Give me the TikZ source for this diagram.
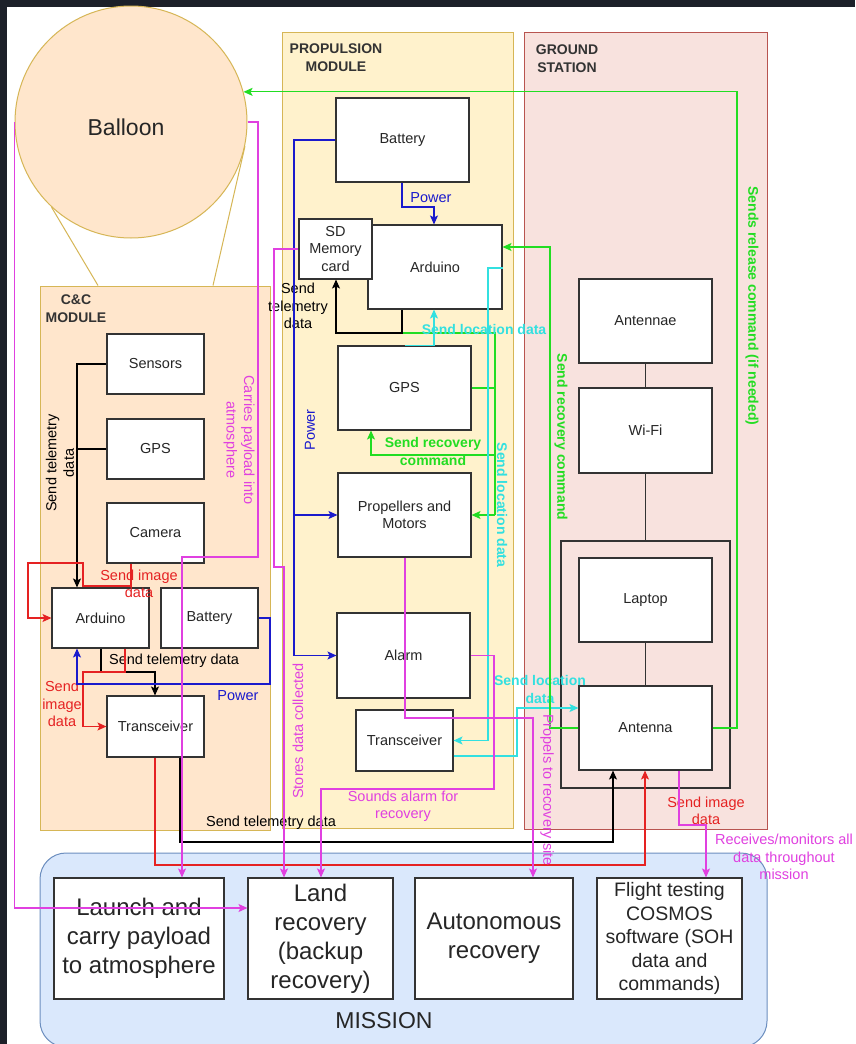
\documentclass[tikz,border=0pt]{standalone}
\usepackage{fontspec}
\setmainfont{Liberation Sans}
\usetikzlibrary{arrows.meta,calc}
\definecolor{mag}{HTML}{E040E0}
\definecolor{grn}{HTML}{22DD22}
\definecolor{cyn}{HTML}{33E0E0}
\definecolor{blu}{HTML}{1A1ACC}
\definecolor{rd}{HTML}{E52222}
\definecolor{boxc}{HTML}{333333}
\definecolor{ccfill}{HTML}{FFE6CC}
\definecolor{gold}{HTML}{D6B656}
\definecolor{pmfill}{HTML}{FFF2CC}
\definecolor{gsfill}{HTML}{F8E2DE}
\definecolor{gsline}{HTML}{B85450}
\definecolor{misfill}{HTML}{DAE8FC}
\definecolor{misline}{HTML}{6C8EBF}
\definecolor{darkbg}{HTML}{1C2029}
\newcommand\fsa{\fontsize{14.5}{17.5}\selectfont}
\newcommand\fsb{\fontsize{14}{18}\selectfont\bfseries}
\begin{document}
\begin{tikzpicture}[x=1pt,y=-1pt,
  >={Stealth[length=9pt,width=8pt,inset=2pt]},
  box/.style={draw=boxc, fill=white, line width=1.1pt, inner sep=0pt, align=center, font=\fsa, text=black!85},
  modbox/.style={line width=1pt, inner sep=0pt},
  ttl/.style={font=\fsb, text=black!80, align=center, inner sep=0pt},
  lbl/.style={font=\fsa, align=center, inner sep=0pt},
  blbl/.style={font=\fsb, align=center, inner sep=0pt},
  conn/.style={line width=1.25pt},
  bigtxt/.style={font=\fontsize{24}{29}\selectfont},
]
\useasboundingbox (0,0) rectangle (855,1044);
\fill[white] (0,0) rectangle (855,1044);
\fill[darkbg] (0,0) rectangle (855,7);
\fill[darkbg] (0,0) rectangle (7,1044);

% modules
\node (ccm) [modbox, draw=gold, fill=ccfill, minimum width=230, minimum height=544] at (155,558) {};
\node (pm) [modbox, draw=gold, fill=pmfill, minimum width=231, minimum height=796] at (397.5,430) {};
\node (gs) [modbox, draw=gsline, fill=gsfill, minimum width=243, minimum height=797] at (645.5,430.5) {};
\node (mis) [draw=misline, fill=misfill, line width=1pt, rounded corners=26, inner sep=0pt, minimum width=727, minimum height=194] at (403.5,950) {};

\node (ccttl) [ttl] at (76,309) {C\&C\\MODULE};
\node (pmttl) [ttl] at (336,57.5) {PROPULSION\\MODULE};
\node (gsttl) [ttl] at (567,59) {GROUND\\STATION};
\node (misttl) [font=\fontsize{23}{27}\selectfont, text=black!85, inner sep=0pt] at (384,1021) {MISSION};

% balloon
\node (balloon) [circle, draw=gold, fill=ccfill, line width=1pt, minimum size=232, inner sep=0pt] at (131,122) {};
\node (balloonlbl) [font=\fontsize{23}{27}\selectfont, text=black!85, inner sep=0pt] at (126,127) {Balloon};
\draw[gold, line width=1pt] (balloon.227) -- (98,0 |- ccm.north);
\draw[gold, line width=1pt] (balloon.-12) -- (213,0 |- ccm.north);

% C&C boxes
\node (ccsens) [box, minimum width=97, minimum height=60] at (155.5,364) {Sensors};
\node (ccgps) [box, minimum width=97, minimum height=60] at (155.5,449) {GPS};
\node (cccam) [box, minimum width=97, minimum height=60] at (155.5,533) {Camera};
\node (ccard) [box, minimum width=97, minimum height=60] at (100.5,618) {Arduino};
\node (ccbat) [box, minimum width=97, minimum height=60] at (209.5,618) {Battery};
\node (cctrx) [box, minimum width=97, minimum height=61] at (155.5,726.5) {Transceiver};

% Propulsion boxes
\node (pbat) [box, minimum width=133, minimum height=84] at (402.5,140) {Battery};
\node (pard) [box, minimum width=134, minimum height=84] at (435,267) {Arduino};
\node (psd) [box, minimum width=73, minimum height=60] at (335.5,249) {SD\\Memory\\card};
\node (pgps) [box, minimum width=133, minimum height=84] at (404.5,388) {GPS};
\node (pprop) [box, minimum width=133, minimum height=84] at (404.5,515) {Propellers and\\Motors};
\node (palarm) [box, minimum width=133, minimum height=85] at (403.5,655.5) {Alarm};
\node (ptrx) [box, minimum width=97, minimum height=61] at (404.5,740.5) {Transceiver};

% Ground station boxes
\node (gant1) [box, minimum width=133, minimum height=84] at (645.5,321) {Antennae};
\node (gwifi) [box, minimum width=133, minimum height=85] at (645.5,430.5) {Wi-Fi};
\node (ggroup) [draw=boxc, line width=1.1pt, inner sep=0pt, minimum width=169, minimum height=247] at (645.5,664.5) {};
\node (glap) [box, minimum width=133, minimum height=84] at (645.5,600) {Laptop};
\node (gant) [box, minimum width=133, minimum height=84] at (645.5,728) {Antenna};
\draw[boxc, line width=1.1pt] (gant1) -- (gwifi);
\draw[boxc, line width=1.1pt] (gwifi) -- (ggroup);
\draw[boxc, line width=1.1pt] (glap) -- (gant);

% Mission boxes
\node (mlaunch) [box, bigtxt, minimum width=170, minimum height=121] at (139,938.5) {Launch and\\carry payload\\to atmosphere};
\node (mland) [box, bigtxt, minimum width=145, minimum height=121] at (320.5,938.5) {Land\\recovery\\(backup\\recovery)};
\node (mauto) [box, bigtxt, minimum width=158, minimum height=121] at (494,938.5) {Autonomous\\recovery};
\node (mflight) [box, font=\fontsize{19.5}{23.5}\selectfont, minimum width=145, minimum height=121] at (669.5,938.5) {Flight testing\\COSMOS\\software (SOH\\data and\\commands)};

% ---------- C&C connectors ----------
\draw[conn, black, ->] (ccsens.west) -- (77,0 |- ccsens.west) -- (77,0 |- ccard.north);
\draw[conn, black] (ccgps.west) -- (77,0 |- ccgps.west);
\node (lbltel1) [lbl, rotate=90] at (60,463) {Send telemetry\\data};

\draw[conn, rd, ->] (131,0 |- cccam.south) -- (131,586) -- (83,586) -- (83,563) -- (28,563) -- (28,0 |- ccard.west) -- (ccard.west);
\node (lblimg1) [lbl, text=rd] at (139,584) {Send image\\data};

\draw[conn, black, ->] (101,0 |- ccard.south) -- (101,672) -- (155,672) -- (155,0 |- cctrx.north);
\node (lbltel2) [lbl] at (174,661) {Send telemetry data};

\draw[conn, rd, ->] (125,0 |- ccard.south) -- (125,672) -- (83,672) -- (83,0 |- cctrx.west) -- (cctrx.west);
\node (lblimg2) [lbl, text=rd] at (62,704) {Send\\image\\data};

\draw[conn, blu, ->] (ccbat.east) -- (270,0 |- ccbat.east) -- (270,684) -- (77,684) -- (77,0 |- ccard.south);
\node (lblpow1) [lbl, text=blu] at (238,696) {Power};

\draw[conn, rd, ->] (155,0 |- cctrx.south) -- (155,865) -- (645,865) -- (645,0 |- gant.south);
\draw[conn, black, ->] (180,0 |- cctrx.south) -- (180,842) -- (613,842) -- (613,0 |- gant.south);
\node (lbltel3) [lbl] at (271,823) {Send telemetry data};
\node (lblimg3) [lbl, text=rd] at (706,811) {Send image\\data};

% ---------- Propulsion connectors ----------
\draw[conn, blu, ->] (402,0 |- pbat.south) -- (402,207) -- (434,207) -- (434,0 |- pard.north);
\node (lblpow2) [lbl, text=blu] at (431,198) {Power};

\draw[conn, grn] (402,0 |- pard.south) -- (402,333) -- (495,333) -- (495,0 |- pprop.east);
\draw[conn, grn, ->] (495,0 |- pprop.east) -- (pprop.east);
\draw[conn, grn] (pgps.east) -- (495,0 |- pgps.east);
\draw[conn, grn, ->] (495,455) -- (371,455) -- (371,0 |- pgps.south);
\node (lblrec1) [blbl, text=grn] at (433,451) {Send recovery\\command};

\draw[conn, black, ->] (402,0 |- pard.south) -- (402,333) -- (336,333) -- (336,0 |- psd.south);
\node (lbltel4) [lbl] at (298,306) {Send\\telemetry\\data};

\draw[conn, blu, ->] (pbat.west) -- (294,0 |- pbat.west) -- (294,0 |- palarm.west) -- (palarm.west);
\draw[conn, blu, ->] (294,0 |- pprop.west) -- (pprop.west);
\node (lblpow3) [lbl, text=blu, rotate=90] at (310,430) {Power};

\draw[conn, cyn, ->] (405,0 |- pgps.north) -- (434,0 |- pgps.north) -- (434,0 |- pard.south);
\node (lblloc1) [blbl, text=cyn] at (484,329) {Send location data};

\draw[conn, cyn, ->] (pard.east |- 0,268) -- (488,268) -- (488,0 |- ptrx.east) -- (ptrx.east);
\node (lblloc2) [blbl, text=cyn, rotate=-90] at (502,505) {Send location data};

\draw[conn, cyn, ->] (ptrx.east |- 0,756) -- (517,756) -- (517,708) -- (gant.west |- 0,708);
\node (lblloc3) [blbl, text=cyn] at (540,689) {Send location\\data};

% ---------- Ground station connectors ----------
\draw[conn, grn, ->] (gant.west) -- (550,0 |- gant.west) -- (550,247) -- (pard.east |- 0,247);
\node (lblrec2) [blbl, text=grn, rotate=-90] at (561,437) {Send recovery command};

\draw[conn, grn, ->] (gant.east) -- (737,0 |- gant.east) -- (737,0 |- balloon.15) -- (balloon.15);
\node (lblrel) [blbl, text=grn, rotate=-90] at (752,306) {Sends release command (if needed)};

% ---------- Magenta mission connectors ----------
\draw[conn, mag, ->] (balloon.east) -- (258,0 |- balloon.east) -- (258,557) -- (182,557) -- (182,0 |- mlaunch.north);
\node (lblcar) [lbl, text=mag, rotate=-90] at (239,440) {Carries payload into\\atmosphere};

\draw[conn, mag, ->] (balloon.west) -- (balloon.west |- 0,908) -- (mland.west |- 0,908);

\draw[conn, mag, ->] (psd.west) -- (274,0 |- psd.west) -- (274,567) -- (284,567) -- (284,0 |- mland.north);
\node (lblsto) [lbl, text=mag, rotate=90] at (298,731) {Stores data collected};

\draw[conn, mag, ->] (405,0 |- pprop.south) -- (405,718) -- (533,718) -- (533,0 |- mauto.north);
\node (lblprop) [lbl, text=mag, rotate=-90] at (547,790) {Propels to recovery site};

\draw[conn, mag, ->] (palarm.east) -- (494,0 |- palarm.east) -- (494,789) -- (321,789) -- (321,0 |- mland.north);
\node (lblalarm) [lbl, text=mag] at (403,806) {Sounds alarm for\\recovery};

\draw[conn, mag, ->] (679,0 |- gant.south) -- (679,825) -- (706,825) -- (706,0 |- mflight.north);
\node (lblrecv) [lbl, text=mag] at (784,857) {Receives/monitors all\\data throughout\\mission};
\end{tikzpicture}
\end{document}
